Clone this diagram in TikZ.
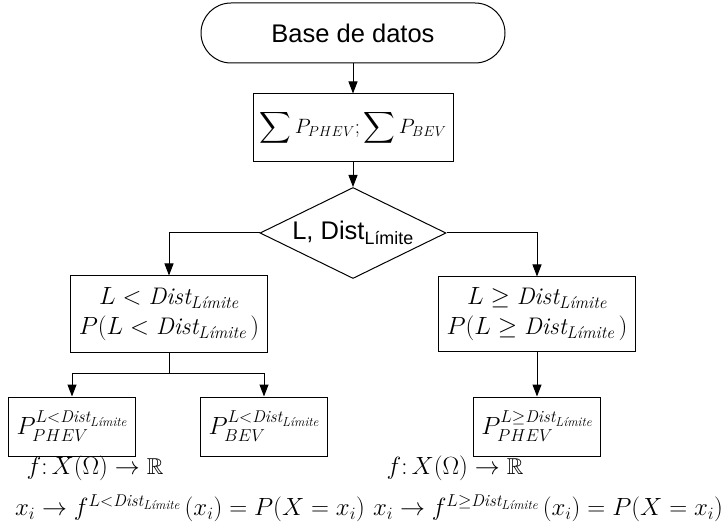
\documentclass[tikz,border=0pt]{standalone}
\usepackage{fontspec}
\usepackage{amsmath,amssymb}
\newfontfamily\arial{Liberation Sans}
\usetikzlibrary{shapes.geometric,arrows.meta}
% larger script sizes for the formulas
\DeclareMathSizes{24}{24}{17}{13}
\DeclareMathSizes{22}{22}{15.5}{12}
% distance limit symbol used throughout
\newcommand\dl{\mathit{Dist}_{\text{\itshape Límite}}}
\begin{document}
\begin{tikzpicture}[x=1pt,y=-1pt,
  line width=1pt,
  box/.style={draw, rectangle, inner sep=0pt, align=center},
  arr/.style={-{Triangle[length=12pt,width=9pt]}},
  mathtxt/.style={font=\fontsize{24}{30}\selectfont},
  functxt/.style={font=\fontsize{23}{28}\selectfont},
  sanstxt/.style={font=\arial\fontsize{25.5}{30}\selectfont},
]
\useasboundingbox (0,0) rectangle (725,526);

% start terminal and aggregation
\node[box, rounded corners=30pt, minimum width=304pt, minimum height=60pt,
      sanstxt] (term) at (353,33) {Base de datos};
\node[box, minimum width=200pt, minimum height=68pt,
      font=\fontsize{22}{26}\selectfont] (sum) at (353,128)
  {$\displaystyle\sum P_{PHEV};\sum P_{BEV}$};

% decision on the trip length
\node[draw, diamond, inner sep=0pt, aspect=2.05, minimum width=186pt, minimum height=91pt,
      sanstxt] (dec) at (353,233)
  {L, Dist\textsubscript{Límite}};

% branches
\node[box, minimum width=197pt, minimum height=76pt, mathtxt] (lbox) at (169,314)
  {$L<\dl$\\[0pt]$P(L<\dl\,)$};
\node[box, minimum width=197pt, minimum height=74pt, mathtxt] (rbox) at (537,314)
  {$L\geq\dl$\\[0pt]$P(L\geq\dl\,)$};

% resulting distributions
\node[box, minimum width=127pt, minimum height=59pt, mathtxt] (p1) at (72,426.5)
  {$P_{PHEV}^{L<\dl}$};
\node[box, minimum width=127pt, minimum height=59pt, mathtxt] (p2) at (264,426.5)
  {$P_{BEV}^{L<\dl}$};
\node[box, minimum width=127pt, minimum height=59pt, mathtxt] (p3) at (537,426.5)
  {$P_{PHEV}^{L\geq\dl}$};

% probability functions
\node[functxt] (f1) at (95,468) {$f{:}\,X(\Omega)\to\mathbb{R}$};
\node[functxt] (f2) at (455,468) {$f{:}\,X(\Omega)\to\mathbb{R}$};
\node[mathtxt] (g1) at (190,508) {$x_i\to f^{L<\dl}\,(x_i)=P(X=x_i)$};
\node[mathtxt] (g2) at (548,508) {$x_i\to f^{L\geq\dl}\,(x_i)=P(X=x_i)$};

% connectors
\coordinate (lsplit) at (169,373);
\draw[arr] (term) -- (sum);
\draw[arr] (sum) -- (dec);
\draw[arr] (dec.west) -| (lbox.north);
\draw[arr] (dec.east) -| (rbox.north);
\draw (lbox.south) -- (lsplit);
\draw[arr] (lsplit) -| (p1.north);
\draw[arr] (lsplit) -| (p2.north);
\draw[arr] (rbox.south) -- (p3.north);
\end{tikzpicture}
\end{document}
